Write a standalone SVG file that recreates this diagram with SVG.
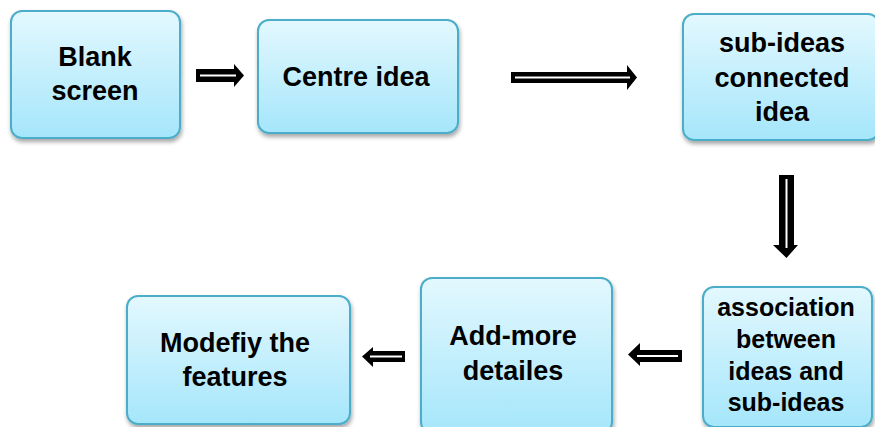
<svg xmlns="http://www.w3.org/2000/svg" width="875" height="427" viewBox="0 0 875 427">
<defs>
<linearGradient id="g" x1="0" y1="0" x2="0" y2="1">
<stop offset="0" stop-color="#e3f8fe"/>
<stop offset="1" stop-color="#a5e6fb"/>
</linearGradient>
<filter id="sh" x="-10%" y="-10%" width="125%" height="130%">
<feDropShadow dx="1" dy="3" stdDeviation="2" flood-color="#000" flood-opacity="0.35"/>
</filter>
<style>
.box{fill:url(#g);stroke:#4badc7;stroke-width:2;filter:url(#sh)}
.t{font-family:"Liberation Sans",Arial,sans-serif;font-weight:bold;font-size:27px;fill:#000;text-anchor:middle}
.s{font-size:25px}
.ah{fill:#000}
.al{stroke:#fff;stroke-width:2;fill:none}
</style>
</defs>
<g id="n1">
<rect class="box" x="11" y="11" width="169" height="127" rx="11"/>
<text class="t" x="95" y="66">Blank</text>
<text class="t" x="95" y="100">screen</text>
</g>
<g id="n2">
<rect class="box" x="258" y="20" width="200" height="113" rx="11"/>
<text class="t" x="356" y="86">Centre idea</text>
</g>
<g id="n3">
<rect class="box" x="683" y="14" width="196" height="126" rx="11"/>
<text class="t" x="782" y="52">sub-ideas</text>
<text class="t" x="782" y="87">connected</text>
<text class="t" x="782" y="121">idea</text>
</g>
<g id="n4">
<rect class="box" x="703" y="287" width="169" height="140" rx="11"/>
<text class="t s" x="786" y="316">association</text>
<text class="t s" x="786" y="348">between</text>
<text class="t s" x="786" y="380">ideas and</text>
<text class="t s" x="786" y="411">sub-ideas</text>
</g>
<g id="n5">
<rect class="box" x="421" y="278" width="191" height="155" rx="11"/>
<text class="t" x="513" y="345">Add-more</text>
<text class="t" x="513" y="380">detailes</text>
</g>
<g id="n6">
<rect class="box" x="127" y="296" width="223" height="128" rx="11"/>
<text class="t" x="235" y="352">Modefiy the</text>
<text class="t" x="235" y="386">features</text>
</g>
<g id="connectors">
<polygon class="ah" points="196,69 234,69 234,64 244,75.5 234,87 234,82 196,82"/>
<line class="al" x1="200" y1="75.5" x2="236" y2="75.5"/>
<polygon class="ah" points="511,72 627,72 627,65 637,77.5 627,90 627,83 511,83"/>
<line class="al" x1="515" y1="77.5" x2="630" y2="77.5"/>
<polygon class="ah" points="779,175 794,175 794,245 798,245 786.5,258 773,245 779,245"/>
<line class="al" x1="786.5" y1="179" x2="786.5" y2="248"/>
<polygon class="ah" points="682,350 640,350 640,343 628,354.5 640,366 640,362 682,362"/>
<line class="al" x1="678" y1="356" x2="637" y2="356"/>
<polygon class="ah" points="405,351 373,351 373,347 362,356.5 373,367 373,362 405,362"/>
<line class="al" x1="402" y1="356.5" x2="370" y2="356.5"/>
</g>
</svg>
